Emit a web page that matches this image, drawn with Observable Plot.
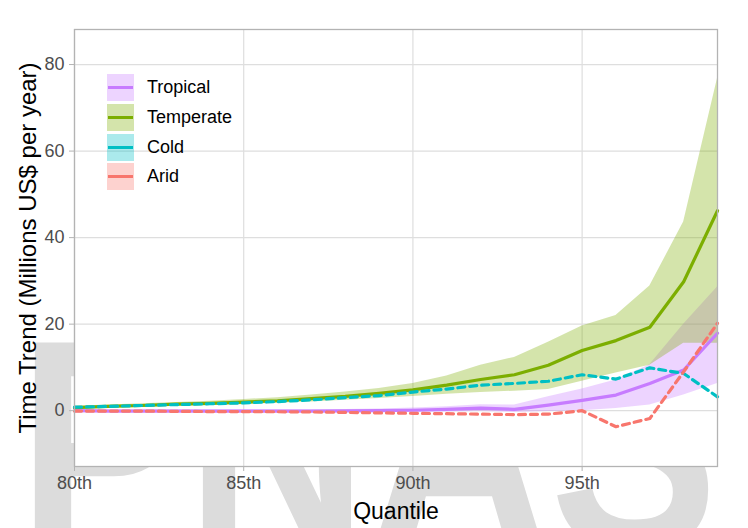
<!DOCTYPE html>
<html>
<head>
<meta charset="utf-8">
<script src="https://cdn.jsdelivr.net/npm/d3@7"></script>
<script src="https://cdn.jsdelivr.net/npm/@observablehq/plot@0.6"></script>
<style>
  html, body { margin: 0; padding: 0; background: #ffffff; }
  #wrap { position: relative; width: 748px; height: 528px; overflow: hidden; font-family: "Liberation Sans", Arial, sans-serif; background-repeat: no-repeat; }
  #chart { position: absolute; left: 0; top: 0; }
  #legend { position: absolute; left: 107px; top: 73px; }
  .row { display: flex; align-items: center; height: 29.7px; }
  .key { position: relative; width: 27px; height: 27px; }
  .key .ln { position: absolute; left: 1px; right: 1px; top: 12px; height: 3px; }
  .lab { margin-left: 13px; font-size: 18px; color: #000; }
</style>
</head>
<body>
<div id="wrap">
  <div id="chart"></div>
  <div id="legend"></div>
</div>
<script>
// ---- data ----
const quantiles = [80, 81, 82, 83, 84, 85, 86, 87, 88, 89, 90, 91, 92, 93, 94, 95, 96, 97, 98, 99];

const tropicalMid  = [0.0, -0.1, -0.1, -0.1, -0.1, -0.1, -0.1, -0.1, -0.05, 0.0, 0.1, 0.3, 0.6, 0.3, 1.3, 2.4, 3.6, 6.3, 9.4, 17.9];
const tropicalLow  = [-0.3, -0.3, -0.3, -0.3, -0.3, -0.3, -0.35, -0.35, -0.35, -0.35, -0.3, -0.3, -0.2, -0.4, -0.2, 0.0, 0.5, 1.3, 3.6, 6.3];
const tropicalHigh = [0.3, 0.2, 0.2, 0.2, 0.2, 0.2, 0.2, 0.2, 0.3, 0.4, 0.6, 0.9, 1.4, 1.3, 3.2, 5.0, 7.1, 10.6, 20.0, 28.6];

const temperateMid  = [0.7, 1.0, 1.2, 1.5, 1.7, 2.0, 2.3, 2.8, 3.3, 4.0, 4.8, 5.9, 7.2, 8.3, 10.5, 13.9, 16.2, 19.3, 29.8, 46.2];
const temperateLow  = [0.4, 0.6, 0.8, 1.0, 1.2, 1.4, 1.7, 2.0, 2.4, 2.8, 3.3, 3.8, 4.2, 4.5, 4.9, 6.8, 8.7, 10.5, 15.6, 15.6];
const temperateHigh = [1.0, 1.3, 1.6, 1.9, 2.2, 2.6, 3.0, 3.6, 4.3, 5.1, 6.3, 8.0, 10.5, 12.3, 15.8, 19.6, 22.0, 28.8, 43.6, 76.8];

const coldMid = [0.8, 1.0, 1.2, 1.4, 1.6, 1.8, 2.1, 2.5, 3.0, 3.5, 4.3, 5.0, 5.9, 6.3, 6.8, 8.3, 7.3, 9.9, 8.6, 3.2];
const aridMid = [-0.1, -0.1, -0.1, -0.15, -0.2, -0.2, -0.25, -0.3, -0.4, -0.5, -0.6, -0.7, -0.8, -0.9, -0.8, 0.0, -3.7, -1.8, 9.0, 20.2];

const seriesNames  = ["Tropical", "Temperate", "Cold", "Arid"];
const seriesColors = ["#C77CFF", "#7CAE00", "#00BFC4", "#F8766D"];

const xTicks = [80, 85, 90, 95];
const xTickLabels = ["80th", "85th", "90th", "95th"];
const yTicks = [0, 20, 40, 60, 80];
const xTitle = "Quantile";
const yTitle = "Time Trend (Millions US$ per year)";
const watermark = "PNAS";

// ---- publisher watermark, as a background picture behind the chart ----
const wmSvg = `<svg xmlns='http://www.w3.org/2000/svg' width='748' height='528'><text x='18' y='549' font-family='Liberation Sans, Arial, sans-serif' font-weight='bold' font-size='300' textLength='700' lengthAdjust='spacingAndGlyphs' fill='#DCDCDC'>${watermark}</text></svg>`;
document.getElementById("wrap").style.backgroundImage = `url("data:image/svg+xml;charset=utf-8,${encodeURIComponent(wmSvg)}")`;

// ---- table ----
const rows = quantiles.map((q, i) => ({
  q,
  trop: tropicalMid[i], tropLo: tropicalLow[i], tropHi: tropicalHigh[i],
  temp: temperateMid[i], tempLo: temperateLow[i], tempHi: temperateHigh[i],
  cold: coldMid[i], arid: aridMid[i]
}));

const [cTrop, cTemp, cCold, cArid] = seriesColors;
const bandOpacity = 0.33;
const lw = 3.2;

const chart = Plot.plot({
  width: 748,
  height: 528,
  marginLeft: 74,
  marginRight: 31,
  marginTop: 29,
  marginBottom: 62,
  style: { background: "none", fontFamily: "Liberation Sans, Arial, sans-serif" },
  x: { domain: [80, 99] },
  y: { domain: [-12.9, 88.1] },
  marks: [
    Plot.frame({ fill: "white", stroke: "none" }),
    Plot.gridX(xTicks, { stroke: "#DEDEDE", strokeOpacity: 1, strokeWidth: 1.2 }),
    Plot.gridY(yTicks, { stroke: "#DEDEDE", strokeOpacity: 1, strokeWidth: 1.2 }),
    Plot.areaY(rows, { x: "q", y1: "tropLo", y2: "tropHi", fill: cTrop, fillOpacity: bandOpacity }),
    Plot.areaY(rows, { x: "q", y1: "tempLo", y2: "tempHi", fill: cTemp, fillOpacity: bandOpacity }),
    Plot.lineY(rows, { x: "q", y: "trop", stroke: cTrop, strokeWidth: lw }),
    Plot.lineY(rows, { x: "q", y: "temp", stroke: cTemp, strokeWidth: lw }),
    Plot.lineY(rows, { x: "q", y: "cold", stroke: cCold, strokeWidth: lw, strokeDasharray: "7,5", strokeLinejoin: "round" }),
    Plot.lineY(rows, { x: "q", y: "arid", stroke: cArid, strokeWidth: lw, strokeDasharray: "7,5", strokeLinejoin: "round" }),
    Plot.frame({ stroke: "#B3B3B3", strokeWidth: 1.3 }),
    Plot.axisX(xTicks, { tickFormat: (d, i) => xTickLabels[i], tickSize: 5, tickPadding: 5, fontSize: 18, color: "#4D4D4D", stroke: "#B3B3B3", label: null }),
    Plot.axisY(yTicks, { tickSize: 5, tickPadding: 5, fontSize: 18, color: "#4D4D4D", stroke: "#B3B3B3", label: null }),
    Plot.text([xTitle], { frameAnchor: "bottom", dy: 52, fontSize: 23, fill: "black", lineAnchor: "bottom" }),
    Plot.text([yTitle], { frameAnchor: "left", dx: -46, rotate: -90, textAnchor: "middle", fontSize: 24, fill: "black" })
  ]
});
document.getElementById("chart").appendChild(chart);

// ---- legend ----
const legend = document.getElementById("legend");
seriesNames.forEach((name, i) => {
  const row = document.createElement("div");
  row.className = "row";
  const key = document.createElement("div");
  key.className = "key";
  key.style.background = d3.color(seriesColors[i]).copy({ opacity: bandOpacity }).formatRgb();
  const ln = document.createElement("div");
  ln.className = "ln";
  ln.style.background = seriesColors[i];
  key.appendChild(ln);
  const lab = document.createElement("span");
  lab.className = "lab";
  lab.textContent = name;
  row.appendChild(key);
  row.appendChild(lab);
  legend.appendChild(row);
});
</script>
</body>
</html>
